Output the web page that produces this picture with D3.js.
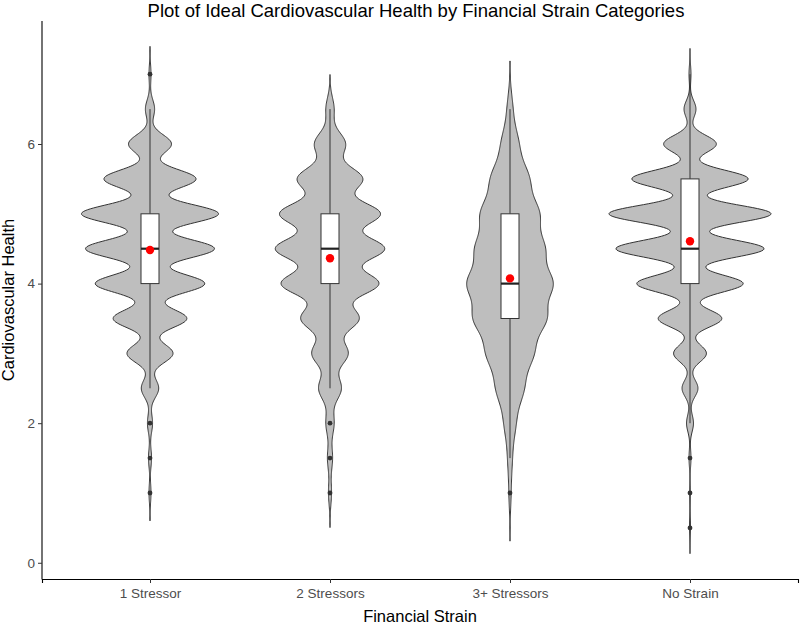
<!DOCTYPE html>
<html>
<head>
<meta charset="utf-8">
<script src="https://cdn.jsdelivr.net/npm/d3@7"></script>
<style>
body { margin: 0; background: #fff; }
text { font-family: "Liberation Sans", Arial, Helvetica, sans-serif; }
</style>
</head>
<body>
<div id="chart"></div>
<script>
// categories on the x axis
var categories = ['1 Stressor', '2 Stressors', '3+ Stressors', 'No Strain'];
// score levels (health score comes in steps of 0.5)
var levels = [0.5, 1, 1.5, 2, 2.5, 3, 3.5, 4, 4.5, 5, 5.5, 6, 6.5, 7];
// how many people at each level, per category
var countsOneStressor  = [0, 2, 3, 5, 17, 45, 72, 107, 126, 134, 90, 42, 9, 2];
var countsTwoStressors = [0, 3, 5, 8, 22, 35, 56, 94, 105, 97, 63, 30, 8, 0];
var countsThreePlus    = [0, 2, 4, 10, 24, 40, 62, 73, 58, 50, 33, 15, 5, 0];
var countsNoStrain     = [1, 1, 2, 7, 16, 33, 64, 107, 149, 163, 117, 53, 12, 2];
// kernel bandwidth of each violin
var bandwidths = [0.133, 0.165, 0.23, 0.123];
var yTicks = [0, 2, 4, 6];

var allCounts = [countsOneStressor, countsTwoStressors, countsThreePlus, countsNoStrain];

var width = 800, height = 627;
var panel = {left: 42, right: 798, top: 21, bottom: 579};

var svg = d3.select('#chart').append('svg')
	.attr('width', width)
	.attr('height', height);

// build groups: samples, box stats, density
var groups = categories.map(function(cat, gi) {
	var counts = allCounts[gi];
	var bw = bandwidths[gi];
	var samples = [];
	levels.forEach(function(v, i) {
		for (var k = 0; k < counts[i]; k++) samples.push(v);
	});
	samples.sort(d3.ascending);
	var n = samples.length;
	var q1 = d3.quantile(samples, 0.25);
	var med = d3.quantile(samples, 0.5);
	var q3 = d3.quantile(samples, 0.75);
	var iqr = q3 - q1;
	var inside = samples.filter(function(v) { return v >= q1 - 1.5 * iqr && v <= q3 + 1.5 * iqr; });
	var outliers = Array.from(new Set(samples.filter(function(v) { return v < q1 - 1.5 * iqr || v > q3 + 1.5 * iqr; })));
	var lo = samples[0] - 3 * bw;
	var hi = samples[n - 1] + 3 * bw;
	var dens = d3.range(512).map(function(j) {
		var y = lo + (hi - lo) * j / 511;
		var s = 0;
		levels.forEach(function(v, i) {
			if (counts[i] > 0) {
				var u = (y - v) / bw;
				s += counts[i] * Math.exp(-0.5 * u * u);
			}
		});
		return {v: y, d: s / (n * bw * Math.sqrt(2 * Math.PI))};
	});
	return {
		cat: cat, q1: q1, med: med, q3: q3,
		lower: d3.min(inside), upper: d3.max(inside),
		outliers: outliers, mean: d3.mean(samples),
		lo: lo, hi: hi, dens: dens
	};
});

var yMin = d3.min(groups, function(g) { return g.lo; });
var yMax = d3.max(groups, function(g) { return g.hi; });
var pad = (yMax - yMin) * 0.05;

var y = d3.scaleLinear()
	.domain([yMin - pad, yMax + pad])
	.range([panel.bottom, panel.top]);

var x = d3.scalePoint()
	.domain(categories)
	.range([panel.left, panel.right])
	.padding(0.6);

var step = x.step();
var maxDens = d3.max(groups, function(g) { return d3.max(g.dens, function(d) { return d.d; }); });
var w = d3.scaleLinear().domain([0, maxDens]).range([0, step * 0.45]);

var plot = svg.append('g');

// violins
groups.forEach(function(g) {
	var cx = x(g.cat);
	var area = d3.area()
		.y(function(d) { return y(d.v); })
		.x0(function(d) { return cx - w(d.d); })
		.x1(function(d) { return cx + w(d.d); });
	plot.append('path')
		.datum(g.dens)
		.attr('d', area)
		.attr('fill', '#bebebe')
		.attr('stroke', '#333333')
		.attr('stroke-width', 1);
});

// boxplots
var boxW = step * 0.1;
groups.forEach(function(g) {
	var cx = x(g.cat);
	var b = plot.append('g');
	b.append('line')
		.attr('x1', cx).attr('x2', cx)
		.attr('y1', y(g.upper)).attr('y2', y(g.q3))
		.attr('stroke', '#333333').attr('stroke-width', 1);
	b.append('line')
		.attr('x1', cx).attr('x2', cx)
		.attr('y1', y(g.q1)).attr('y2', y(g.lower))
		.attr('stroke', '#333333').attr('stroke-width', 1);
	b.append('rect')
		.attr('x', cx - boxW / 2)
		.attr('y', y(g.q3))
		.attr('width', boxW)
		.attr('height', y(g.q1) - y(g.q3))
		.attr('fill', '#ffffff')
		.attr('stroke', '#333333')
		.attr('stroke-width', 1);
	b.append('line')
		.attr('x1', cx - boxW / 2).attr('x2', cx + boxW / 2)
		.attr('y1', y(g.med)).attr('y2', y(g.med))
		.attr('stroke', '#222222').attr('stroke-width', 2.2);
	b.selectAll('circle.out')
		.data(g.outliers)
		.enter()
		.append('circle')
		.attr('class', 'out')
		.attr('cx', cx)
		.attr('cy', function(d) { return y(d); })
		.attr('r', 2.4)
		.attr('fill', '#333333');
});

// mean points
plot.selectAll('circle.mean')
	.data(groups)
	.enter()
	.append('circle')
	.attr('class', 'mean')
	.attr('cx', function(g) { return x(g.cat); })
	.attr('cy', function(g) { return y(g.mean); })
	.attr('r', 4.2)
	.attr('fill', '#ff0000');

// axes
var yAxis = svg.append('g')
	.attr('transform', 'translate(' + panel.left + ',0)')
	.call(d3.axisLeft(y).tickValues(yTicks).tickSizeOuter(0).tickSize(4).tickPadding(3));
var xAxis = svg.append('g')
	.attr('transform', 'translate(0,' + panel.bottom + ')')
	.call(d3.axisBottom(x).tickSizeOuter(0).tickSize(4).tickPadding(5));

[yAxis, xAxis].forEach(function(ax) {
	ax.select('.domain').attr('stroke', '#000').attr('stroke-width', 1.1);
	ax.selectAll('.tick line').attr('stroke', '#333333');
	ax.selectAll('.tick text')
		.attr('fill', '#4d4d4d')
		.style('font-size', '13.5px');
});
// ggplot draws the y axis line down to the x axis line
yAxis.select('.domain').attr('d', 'M0,' + panel.top + 'V' + (panel.bottom + 0.5));

// titles
svg.append('text')
	.attr('x', 416)
	.attr('y', 17)
	.attr('text-anchor', 'middle')
	.style('font-size', '18.5px')
	.attr('fill', '#000')
	.text('Plot of Ideal Cardiovascular Health by Financial Strain Categories');

svg.append('text')
	.attr('x', (panel.left + panel.right) / 2)
	.attr('y', 622)
	.attr('text-anchor', 'middle')
	.style('font-size', '16.5px')
	.attr('fill', '#000')
	.text('Financial Strain');

svg.append('text')
	.attr('transform', 'translate(14,' + ((panel.top + panel.bottom) / 2) + ') rotate(-90)')
	.attr('text-anchor', 'middle')
	.style('font-size', '16.5px')
	.attr('fill', '#000')
	.text('Cardiovascular Health');
</script>
</body>
</html>
